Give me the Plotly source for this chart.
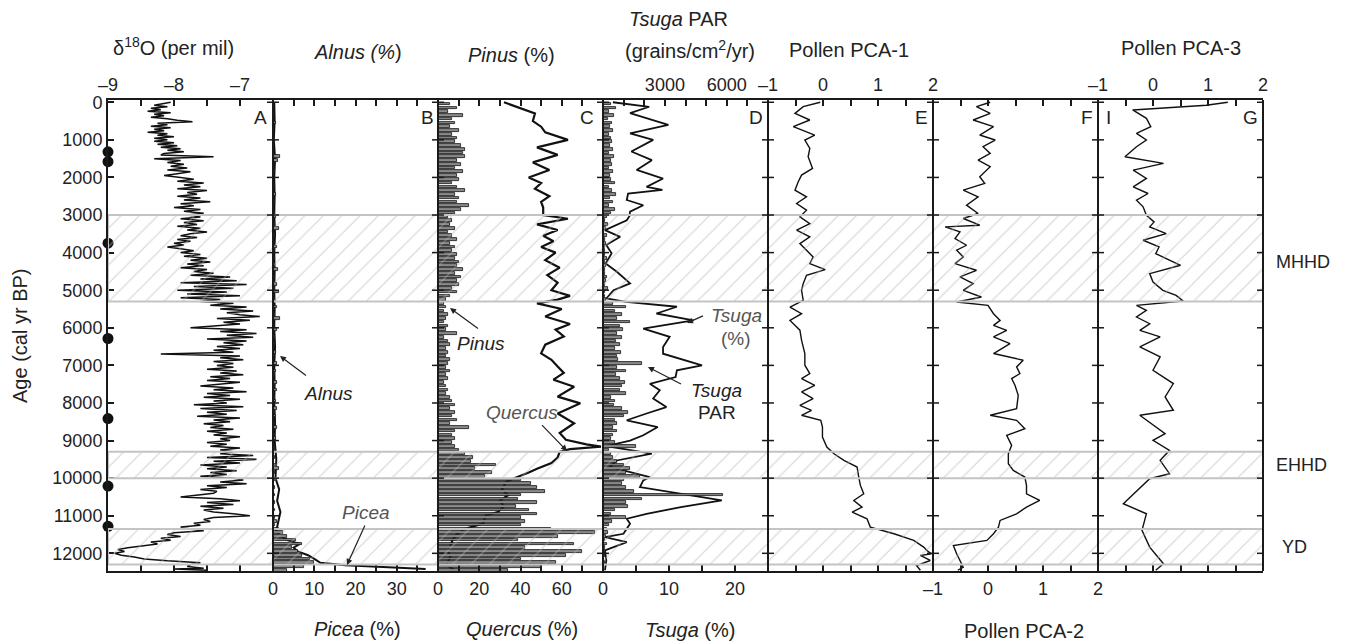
import plotly.graph_objects as go

# ---------------- data ----------------
# Panel A: delta18O (per mil) vs age (cal yr BP)
d18o_age = [0, 40, 80, 120, 160, 200, 240, 280, 320, 360, 400, 440, 480, 520, 560, 600, 640, 680, 720, 760,
            800, 840, 880, 920, 960, 1000, 1040, 1080, 1120, 1160, 1200, 1240, 1280, 1320, 1360, 1400, 1450, 1500,
            1550, 1600, 1650, 1700, 1750, 1800, 1850, 1900, 1950, 2000,
            2050, 2100, 2150, 2200, 2250, 2300, 2350, 2400, 2450, 2500,
            2550, 2600, 2650, 2700, 2750, 2800, 2850, 2900, 2950, 3000,
            3050, 3100, 3150, 3200, 3250, 3300, 3350, 3400, 3450, 3500,
            3550, 3600, 3650, 3700, 3750, 3800, 3850, 3900, 3950, 4000,
            4050, 4100, 4150, 4200, 4250, 4300, 4350, 4400, 4450, 4500,
            4550, 4600, 4650, 4700, 4750, 4800, 4850, 4900, 4950, 5000,
            5050, 5100, 5150, 5200, 5250, 5300, 5350, 5400, 5450, 5500,
            5550, 5600, 5650, 5700, 5750, 5800, 5850, 5900, 5950, 6000,
            6050, 6100, 6150, 6200, 6250, 6300, 6350, 6400, 6450, 6500,
            6550, 6600, 6650, 6700, 6750, 6800, 6850, 6900, 6950, 7000,
            7050, 7100, 7150, 7200, 7250, 7300, 7350, 7400, 7450, 7500,
            7550, 7600, 7650, 7700, 7750, 7800, 7850, 7900, 7950, 8000,
            8050, 8100, 8150, 8200, 8250, 8300, 8350, 8400, 8450, 8500,
            8550, 8600, 8650, 8700, 8750, 8800, 8850, 8900, 8950, 9000,
            9050, 9100, 9150, 9200, 9250, 9300, 9350, 9400, 9450, 9500,
            9550, 9600, 9650, 9700, 9750, 9800, 9850, 9900, 9950, 10000,
            10050, 10100, 10150, 10200, 10250, 10300, 10350, 10400, 10450, 10500,
            10550, 10600, 10650, 10700, 10750, 10800, 10850, 10900, 10950, 11000,
            11050, 11100, 11150, 11200, 11250, 11300, 11350, 11400, 11450, 11500,
            11550, 11600, 11650, 11700, 11750, 11800, 11850, 11900, 11950, 12000,
            12050, 12100, 12150, 12200, 12250, 12300, 12350, 12400, 12420, 12450]
d18o_val = [-8.05, -8.15, -8.30, -8.10, -8.35, -8.20, -8.40, -8.05, -8.30, -8.15, -8.35, -8.10, -7.95, -7.72,
            -8.25, -8.10, -8.35, -8.05, -8.30, -8.15, -8.40, -8.10, -8.25, -8.00, -8.30, -8.10,
            -8.30, -8.00, -8.25, -7.95, -8.20, -7.90, -8.10, -7.85, -8.15, -8.20, -7.40, -8.30,
            -7.90, -8.10, -7.85, -8.05, -7.80, -8.10, -7.75, -7.95, -8.15, -7.90,
            -7.70, -7.95, -7.55, -7.85, -7.60, -7.95, -7.50, -7.80, -7.65, -7.95,
            -7.60, -7.85, -7.45, -7.90, -7.70, -8.00, -7.60, -7.85, -7.55, -7.80,
            -7.60, -7.90, -7.55, -7.85, -7.65, -7.95, -7.60, -7.80, -7.50, -7.75,
            -7.90, -7.65, -7.95, -7.75, -8.00, -7.85, -8.10, -7.90, -7.70, -7.90,
            -7.60, -7.85, -7.50, -7.75, -7.45, -7.80, -7.55, -7.90, -7.50, -7.70,
            -7.40, -7.75, -7.15, -7.60, -7.05, -7.90, -6.90, -7.70, -7.10, -7.95,
            -7.20, -7.80, -7.00, -7.90, -7.30, -7.60, -7.10, -7.45, -6.90, -7.30,
            -6.80, -7.20, -7.00, -6.70, -7.35, -6.85, -7.25, -7.00, -7.40, -7.75,
            -6.90, -7.30, -6.75, -7.20, -6.80, -7.50, -6.90, -7.25, -6.95, -7.35,
            -7.00, -7.40, -7.10, -8.20, -7.00, -7.30, -6.95, -7.40, -7.10, -7.35,
            -7.10, -7.50, -7.05, -7.30, -6.95, -7.45, -7.15, -7.50, -7.00, -7.35,
            -7.60, -7.10, -7.40, -6.90, -7.50, -7.15, -7.55, -7.00, -7.40, -7.20,
            -7.70, -6.95, -7.60, -7.05, -7.50, -7.20, -7.65, -7.00, -7.40, -7.15,
            -7.55, -7.25, -7.45, -7.10, -7.50, -7.20, -7.40, -7.00, -7.30, -7.15,
            -7.50, -7.20, -7.45, -7.00, -7.30, -7.10, -7.30, -6.80, -7.50, -6.75,
            -7.40, -7.00, -7.60, -7.20, -7.50, -7.05, -7.45, -7.20, -7.60, -7.10,
            -6.95, -7.30, -6.90, -7.50, -7.20, -7.60, -7.35, -7.40, -7.70, -7.90,
            -7.30, -7.00, -7.50, -7.10, -7.60, -7.25, -7.55, -7.40, -7.10, -6.85,
            -7.40, -7.55, -7.45, -7.70, -7.60, -7.90, -7.75, -7.55, -8.00, -8.10,
            -7.90, -8.20, -8.05, -8.35, -8.25, -8.50, -8.70, -8.85, -8.75, -8.90,
            -8.80, -8.60, -8.45, -8.10, -7.60, -7.75, -7.80, -7.55, -8.00, -7.50]

# radiocarbon-dated levels (dots on the age axis)
date_age = [1320, 1580, 3750, 6285, 8415, 10210, 11280]

# pollen samples for bar series
pollen_age = [50, 150, 250, 350, 450, 550, 650, 750, 850, 950,
              1050, 1150, 1250, 1350, 1450, 1550, 1650, 1750, 1850, 1950,
              2050, 2150, 2250, 2350, 2450, 2550, 2650, 2750, 2850, 2950,
              3050, 3150, 3250, 3350, 3450, 3550, 3650, 3750, 3850, 3950,
              4050, 4150, 4250, 4350, 4450, 4550, 4650, 4750, 4850, 4950,
              5050, 5150, 5250, 5350, 5450, 5550, 5650, 5750, 5850, 5950,
              6050, 6150, 6250, 6350, 6450, 6550, 6650, 6750, 6850, 6950,
              7050, 7150, 7250, 7350, 7450, 7550, 7650, 7750, 7850, 7950,
              8050, 8150, 8250, 8350, 8450, 8550, 8650, 8750, 8850, 8950,
              9050, 9150, 9250, 9350, 9450, 9550, 9650, 9750, 9850, 9950,
              10050, 10150, 10250, 10350, 10450, 10550, 10650, 10750, 10850, 10950,
              11050, 11150, 11250, 11350, 11450, 11550, 11650, 11750, 11850, 11950,
              12050, 12150, 12250, 12350, 12450]
alnus_pct = [0, 0, 0, 0, 0, 0.15, 0, 0, 0, 0,
             0.1, 0, 0, 0, 0.35, 0.25, 0, 0, 0.1, 0,
             0, 0, 0.1, 0, 0.15, 0, 0.1, 0, 0, 0.1,
             0.15, 0, 0.1, 0.3, 0, 0.1, 0, 0, 0.2, 0.1,
             0, 0.1, 0, 0.1, 0.25, 0, 0.1, 0, 0.2, 0.1,
             0.3, 0, 0.1, 0, 0.2, 0, 0.1, 0.35, 0, 0.1,
             0.2, 0, 0.1, 0, 0.1, 0, 0.15, 0.1, 0, 0.2,
             0, 0.15, 0.1, 0, 0.2, 0.1, 0.2, 0, 0.1, 0.15,
             0, 0.2, 0.1, 0.15, 0, 0.1, 0.2, 0, 0.1, 0.15,
             0, 0.1, 0.1, 0, 0.1, 0, 0.15, 0.3, 0.1, 0,
             0.1, 0, 0.1, 0.05, 0.1, 0, 0.1, 0, 0.1, 0.05,
             0.1, 0.2, 0.1, 0.3, 0.5, 0.7, 1.1, 1.4, 0.9, 1.2,
             1.4, 1.8, 2.0, 1.5, 0.7]
pinus_pct = [6, 9, 5, 12, 7, 8, 6, 10, 7, 9,
             8, 11, 13, 12, 13, 9, 11, 8, 12, 9,
             10, 7, 9, 13, 8, 10, 9, 15, 11, 8,
             5, 7, 6, 8, 5, 7, 9, 6, 8, 7,
             9, 8, 10, 9, 12, 8, 11, 9, 10, 7,
             9, 6, 4, 3, 4, 3, 5, 4, 3, 5,
             4, 9, 3, 5, 6, 4, 5, 4, 6, 5,
             4, 6, 4, 5, 3, 4, 5, 4, 6, 7,
             8, 6, 8, 7, 9, 6, 15, 8, 7, 8,
             7, 8, 10, 13, 17, 16, 28, 18, 26, 23,
             40, 45, 48, 52, 40, 39, 48, 38, 44, 48,
             40, 42, 40, 55, 76, 58, 39, 66, 42, 70,
             62, 40, 57, 50, 34]
tsuga_par = [400, 650, 300, 550, 250, 450, 350, 500, 300, 400,
             450, 350, 500, 300, 550, 400, 450, 300, 500, 350,
             400, 600, 300, 450, 650, 350, 500, 300, 600, 400,
             200, 100, 250, 150, 50, 200, 100, 150, 80, 120,
             100, 200, 80, 150, 100, 120, 200, 150, 100, 250,
             120, 80, 150, 500, 1100, 600, 900, 700, 1300, 800,
             950, 700, 900, 650, 800, 600, 850, 700, 750, 1900,
             700, 1100, 650, 800, 1050, 900, 800, 1100, 400, 600,
             550, 900, 1200, 1000, 600, 700, 500, 700, 500, 400,
             600, 1600, 300, 400, 500, 700, 1000, 1300, 1100, 1800,
             1000, 900, 1100, 1500, 5800, 1900, 1100, 1200, 600, 400,
             1100, 450, 300, 200, 250, 150, 100, 200, 80, 100,
             120, 60, 80, 50, 40]

# line series
picea_age = [0, 500, 1000, 1500, 2000, 2500, 3000, 3500, 4000, 4500, 5000, 5500, 6000, 6500, 7000, 7500,
             8000, 8500, 9000, 9500, 10000, 10300, 10600, 10900, 11200, 11400, 11550, 11650, 11750, 11850,
             11950, 12050, 12150, 12250, 12320, 12420]
picea_pct = [0.3, 0.4, 0.2, 0.5, 0.3, 0.4, 0.3, 0.5, 0.3, 0.4, 0.3, 0.4, 0.3, 0.5, 0.3, 0.4,
             0.3, 0.5, 0.4, 0.8, 0.6, 1.5, 1.0, 1.8, 1.2, 0.8, 2.0, 3.5, 6.5, 5.0,
             6.0, 8.5, 10.0, 11.5, 17.5, 37.0]

quercus_age = [0, 150, 300, 500, 650, 800, 1000, 1200, 1400, 1600, 1800, 2000, 2150, 2300, 2500, 2650,
               2800, 3000, 3100, 3250, 3400, 3550, 3700, 3850, 4000, 4200, 4400, 4600, 4800, 5000, 5150,
               5250, 5350, 5500, 5700, 5900, 6050, 6230, 6450, 6680, 6850, 7030, 7200, 7380, 7570, 7830,
               8010, 8280, 8540, 8800, 8980, 9100, 9160, 9230, 9300, 9450, 9600, 9750, 9850, 10000, 10100,
               10300, 10450, 10600, 10750, 10900, 11000, 11200, 11350, 11500, 11650, 11800, 11950, 12100,
               12200, 12300, 12450]
quercus_pct = [32, 40, 47, 46, 50, 52, 63, 48, 58, 46, 54, 44, 50, 47, 54, 50,
               51, 51, 63, 48, 58, 51, 56, 50, 57, 52, 59, 53, 58, 55, 64,
               58, 48, 60, 52, 64, 57, 61, 52, 50, 55, 58, 61, 56, 66, 58,
               69, 58, 66, 59, 62, 72, 79, 64, 59, 58, 55, 48, 44, 37, 33,
               31, 34, 30, 32, 29, 23, 22, 13, 9, 7, 6, 5, 6,
               5, 4, 8]

tsuga_age = [0, 120, 290, 600, 830, 1000, 1310, 1540, 1800, 2030, 2250, 2330, 2430, 2600, 2740, 2910,
             3030, 3140, 3400, 3580, 3800, 4020, 4290, 4510, 4820, 5000, 5220, 5310, 5440, 5620, 5800,
             6020, 6240, 6510, 6690, 7000, 7130, 7310, 7490, 7660, 7880, 8110, 8280, 8460, 8640, 8860,
             9000, 9150, 9350, 9530, 9700, 9840, 9970, 10060, 10240, 10590, 10770, 10950, 11080, 11210,
             11480, 11570, 11700, 11920, 12190, 12450]
tsuga_pct = [1.5, 7.0, 4.1, 9.9, 4.1, 7.6, 4.3, 7.4, 5.1, 9.1, 6.6, 9.0, 3.8, 3.6, 6.1, 4.1,
             4.0, 3.6, 0.3, 2.6, 0.5, 1.3, 0.4, 2.1, 4.1, 1.6, 0.5, 3.5, 11.2, 8.1, 13.7,
             6.1, 10.1, 9.1, 9.1, 15.0, 11.2, 11.0, 7.1, 8.6, 7.6, 9.6, 6.6, 3.6, 8.3, 6.1,
             4.1, 0.5, 7.4, 2.1, 1.0, 4.1, 7.1, 6.1, 5.6, 18.0, 11.8, 6.6, 3.6, 4.1,
             3.1, 0.3, 3.6, 0.3, 0.5, 0.3]

pca1_age = [0, 117, 295, 472, 650, 872, 1005, 1228, 1450, 1761, 1938, 2116, 2340, 2516, 2694, 2871,
            3049, 3227, 3404, 3582, 3760, 3937, 4115, 4292, 4452, 4603, 4825, 5003, 5270, 5448, 5625,
            5803, 6063, 6330, 6685, 6996, 7218, 7351, 7529, 7706, 7884, 8062, 8195, 8328, 8461, 8639,
            8905, 9172, 9350, 9527, 9705, 9971, 10193, 10415, 10593, 10770, 10903, 11080, 11302, 11480,
            11657, 11835, 11924, 12013, 12057, 12190, 12324, 12450]
pca1_val = [-0.05, -0.36, -0.51, -0.24, -0.54, -0.15, -0.33, -0.24, -0.27, -0.19, -0.39, -0.45, -0.51,
            -0.30, -0.48, -0.30, -0.42, -0.24, -0.48, -0.24, -0.42, -0.30, -0.18, -0.24, 0.04, -0.30,
            -0.36, -0.39, -0.36, -0.60, -0.39, -0.60, -0.42, -0.39, -0.33, -0.33, -0.24, -0.39, -0.15,
            -0.39, -0.18, -0.42, -0.21, -0.39, -0.04, -0.01, -0.01, 0.07, 0.20, 0.38, 0.62, 0.65, 0.68,
            0.74, 0.56, 0.71, 0.53, 0.80, 0.86, 1.29, 1.65, 1.83, 1.89, 1.97, 1.77, 1.95, 1.70, 1.77]

pca2_age = [0, 117, 295, 472, 650, 872, 1005, 1183, 1361, 1538, 1715, 1982, 2160, 2338, 2516, 2738,
            2960, 3093, 3271, 3316, 3449, 3626, 3804, 3937, 4115, 4292, 4470, 4648, 4825, 5003, 5180,
            5315, 5404, 5626, 5803, 5936, 6070, 6241, 6419, 6685, 6863, 7040, 7218, 7351, 7529, 7795,
            8150, 8328, 8461, 8683, 8861, 9127, 9350, 9616, 9794, 9971, 10193, 10415, 10593, 10770,
            10948, 11125, 11302, 11480, 11657, 11790, 12013, 12190, 12368, 12450]
pca2_val = [0.04, -0.21, 0.04, -0.27, 0.10, -0.15, 0.13, -0.09, 0.04, -0.18, 0.04, -0.15, -0.06, -0.45,
            -0.18, -0.39, -0.18, -0.45, -0.15, -0.78, -0.51, -0.60, -0.39, -0.57, -0.45, -0.60, -0.21,
            -0.51, -0.27, -0.45, -0.12, -0.57, 0.00, 0.10, 0.22, 0.10, 0.34, 0.10, 0.40, 0.10, 0.64,
            0.52, 0.58, 0.43, 0.49, 0.55, 0.52, 0.04, 0.52, 0.67, 0.34, 0.43, 0.37, 0.37, 0.46, 0.67,
            0.70, 0.70, 0.94, 0.70, 0.52, 0.22, 0.19, 0.10, -0.02, -0.63, -0.57, -0.51, -0.45, -0.55]

pca3_age = [0, 80, 205, 427, 650, 827, 1005, 1183, 1450, 1627, 1805, 2027, 2249, 2427, 2604, 2782,
            3005, 3182, 3316, 3493, 3671, 3849, 4027, 4204, 4337, 4559, 4781, 5003, 5137, 5288, 5403,
            5537, 5714, 5892, 6070, 6241, 6507, 6774, 7129, 7484, 7839, 8194, 8328, 8816, 8994, 9260,
            9527, 9882, 10015, 10681, 10947, 11390, 11834, 12278, 12450]
pca3_val = [1.36, 0.97, -0.37, -0.12, -0.04, -0.30, -0.12, -0.30, -0.51, 0.19, -0.36, -0.12, -0.36,
            -0.09, -0.30, -0.18, -0.12, 0.02, -0.06, 0.24, -0.18, 0.11, 0.05, 0.29, 0.50, -0.06, 0.00,
            0.18, 0.42, 0.55, -0.30, -0.12, -0.30, -0.06, -0.24, 0.13, -0.24, 0.13, 0.00, 0.37, 0.22,
            0.37, -0.24, 0.22, 0.00, 0.30, 0.13, 0.30, -0.06, -0.54, -0.12, -0.20, -0.06, 0.19, 0.05]

# climate intervals (age ranges) and labels
band_names = ["MHHD", "EHHD", "YD"]
band_top = [3000, 9300, 11350]
band_bottom = [5300, 10000, 12300]

# tick labels
age_ticks = [0, 1000, 2000, 3000, 4000, 5000, 6000, 7000, 8000, 9000, 10000, 11000, 12000]
d18o_ticks = [-9, -8.5, -8, -7.5, -7, -6.5]
d18o_text = ["\u20139", " ", "\u20138", " ", "\u20137", " "]
picea_ticks = [0, 5, 10, 15, 20, 25, 30, 35, 40]
picea_text = ["0", " ", "10", " ", "20", " ", "30", " ", " "]
alnus_ticks = [0, 1, 2, 3, 4, 5, 6, 7, 8]
pct80_ticks = [0, 10, 20, 30, 40, 50, 60, 70, 80]
quercus_text = ["0", " ", "20", " ", "40", " ", "60", " ", " "]
tsuga_ticks = [0, 5, 10, 15, 20, 25]
tsuga_text = ["0", " ", "10", " ", "20", " "]
par_ticks = [0, 1000, 2000, 3000, 4000, 5000, 6000, 7000, 8000]
par_text = [" ", " ", " ", "3000", " ", " ", "6000", " ", " "]
pca_ticks = [-1, -0.5, 0, 0.5, 1, 1.5, 2]
pca_text = ["\u20131", " ", "0", " ", "1", " ", "2"]

# ---------------- figure ----------------
FONT = "Liberation Sans, Arial, sans-serif"
AX = "#1a1a1a"
BODY = 8                     # default page margin of the html body
W, H = 1349 - BODY, 644 - BODY
PL, PR, PT, PB = 108, 1263, 100, 571   # plot area in screenshot pixels
YR = [12470, -60]
NP = 7


def fx(x):
    return (x - PL) / (PR - PL)


def fy(y):
    return (PB - y) / (PB - PT)


fig = go.Figure()

LINE = "#111"


def line(xv, yv, xa, width, ghost=False):
    # ghost copies keep an otherwise empty twin axis alive (fully transparent)
    fig.add_trace(go.Scatter(x=xv, y=yv, mode="lines", line=dict(color=LINE, width=width),
                             opacity=0 if ghost else 1, hoverinfo="skip" if ghost else None,
                             xaxis=xa, yaxis="y"))


# Panel A
line(d18o_val, d18o_age, "x", 1.5)
fig.add_trace(go.Scatter(x=[-9] * len(date_age), y=date_age, mode="markers", cliponaxis=False,
                         marker=dict(color=LINE, size=11), xaxis="x8", yaxis="y"))
# Panel B
BAR = dict(color="#8a8a8a", line=dict(color="#111", width=0.8))
fig.add_trace(go.Bar(x=alnus_pct, y=pollen_age, orientation="h", width=70, marker=BAR,
                     xaxis="x9", yaxis="y"))
line(picea_pct, picea_age, "x2", 2)
# Panel C
fig.add_trace(go.Bar(x=pinus_pct, y=pollen_age, orientation="h", width=70, marker=BAR,
                     xaxis="x10", yaxis="y"))
line(quercus_pct, quercus_age, "x3", 2.2)
# Panel D
fig.add_trace(go.Bar(x=tsuga_par, y=pollen_age, orientation="h", width=70, marker=BAR,
                     xaxis="x11", yaxis="y"))
line(tsuga_pct, tsuga_age, "x4", 1.8)
# Panels E, F, G
line(pca1_val, pca1_age, "x12", 1.4)
line(pca1_val, pca1_age, "x5", 1.4, ghost=True)
line(pca2_val, pca2_age, "x6", 1.4)
line(pca2_val, pca2_age, "x13", 1.4, ghost=True)
line(pca3_val, pca3_age, "x14", 1.4)
line(pca3_val, pca3_age, "x7", 1.4, ghost=True)

# hatched climate bands over all panels
for t, b in zip(band_top, band_bottom):
    fig.add_trace(go.Scatter(x=[0, 1, 1, 0, 0], y=[t, t, b, b, t], mode="lines", fill="toself",
                             fillcolor="rgba(0,0,0,0)",
                             fillpattern=dict(shape="/", fgcolor="#b8b8b8", bgcolor="rgba(0,0,0,0)",
                                              size=13, solidity=0.1),
                             line=dict(color="#c4c4c4", width=2), xaxis="x15", yaxis="y8",
                             hoverinfo="skip"))

TICKFONT = dict(family=FONT, size=18, color="#222")


def xaxis(dom, rng, vals, text, side, overlaying=None):
    d = dict(range=rng, tickmode="array", tickvals=vals, side=side, anchor="y",
             showline=True, linecolor=AX, linewidth=2, ticks="inside", ticklen=6, tickwidth=1.5,
             tickcolor=AX, showgrid=False, zeroline=False, tickfont=TICKFONT, tickangle=0)
    if text is None:
        d["showticklabels"] = False
    else:
        d["ticktext"] = text
    if overlaying:
        d["overlaying"] = overlaying
    else:
        d["domain"] = dom
    return d


panels = [
    # bottom range, bottom ticks, bottom text, top range, top ticks, top text
    ([-9, -6.5], d18o_ticks, None, [-9, -6.5], d18o_ticks, d18o_text),
    ([0, 40], picea_ticks, picea_text, [0, 8], alnus_ticks, None),
    ([0, 80], pct80_ticks, quercus_text, [0, 80], pct80_ticks, None),
    ([0, 25], tsuga_ticks, tsuga_text, [0, 8000], par_ticks, par_text),
    ([-1, 2], pca_ticks, None, [-1, 2], pca_ticks, pca_text),
    ([-1, 2], pca_ticks, pca_text, [-1, 2], pca_ticks, None),
    ([-1, 2], pca_ticks, None, [-1, 2], pca_ticks, pca_text),
]

lay = {}
for i, (brng, bt, btx, trng, tt, ttx) in enumerate(panels):
    k = i + 1
    sid = "" if k == 1 else str(k)
    dom = [i / NP, (i + 1) / NP]
    lay["xaxis" + sid] = xaxis(dom, brng, bt, btx, "bottom")
    lay["xaxis" + str(k + NP)] = xaxis(dom, trng, tt, ttx, "top", overlaying="x" + sid)

lay["yaxis"] = dict(domain=[0, 1], range=YR, anchor="x", side="left", tickmode="array",
                    tickvals=age_ticks, ticktext=[str(a) for a in age_ticks],
                    showline=True, linecolor=AX, linewidth=2, ticks="inside", ticklen=6,
                    tickwidth=1.5, tickcolor=AX, showgrid=False, zeroline=False, tickfont=TICKFONT)
lay["xaxis15"] = dict(domain=[0, 1], range=[0, 1], anchor="y8", visible=False)
lay["yaxis8"] = dict(domain=[0, 1], range=YR, anchor="x15", visible=False)

# panel borders and their age ticks (drawn through the age axis)
shapes = []
for j in range(1, NP + 1):
    shapes.append(dict(type="line", xref="paper", yref="paper", x0=j / NP, x1=j / NP, y0=0, y1=1,
                       line=dict(color=AX, width=2)))
    for a in age_ticks:
        shapes.append(dict(type="line", xref="paper", yref="y", xsizemode="pixel", xanchor=j / NP,
                           x0=-6, x1=(6 if j < NP else 0), y0=a, y1=a,
                           line=dict(color=AX, width=1.5)))

ann = []


def text(x, y, s, size=20, color="#222", xanchor="center", angle=0):
    ann.append(dict(x=fx(x), y=fy(y), xref="paper", yref="paper", text=s, showarrow=False,
                    font=dict(family=FONT, size=size, color=color), xanchor=xanchor,
                    yanchor="middle", textangle=angle))


def arrow(tx, ty, sx, sy, color="#222"):
    ann.append(dict(x=fx(tx), y=fy(ty), xref="paper", yref="paper", text=" ", showarrow=True,
                    font=dict(size=2), ax=sx - tx, ay=sy - ty, axref="pixel", ayref="pixel",
                    arrowhead=2, arrowsize=1, arrowwidth=1.2, arrowcolor=color, standoff=0,
                    startstandoff=0))


# axis titles
text(173, 46, "\u03b4<sup>18</sup>O (per mil)")
text(358, 52, "<i>Alnus (%</i>)")
text(511, 55, "<i>Pinus</i> (%)")
text(678, 19, "<i>Tsuga</i> PAR")
text(690, 49, "(grains/cm<sup>2</sup>/yr)")
text(849, 50, "Pollen PCA-1")
text(1181, 48, "Pollen PCA-3")
text(357, 629, "<i>Picea</i> (%)")
text(522, 629, "<i>Quercus</i> (%)")
text(690, 630, "<i>Tsuga</i> (%)")
text(1024, 631, "Pollen PCA-2")
text(20, 336, "Age (cal yr BP)", angle=-90)

# panel letters
for lx, lt in zip([260, 427, 587, 756, 921, 1087, 1250, 1108], ["A", "B", "C", "D", "E", "F", "G", "I"]):
    text(lx, 117, lt, size=19)

# interval labels
text(1274, 262, band_names[0], size=18, xanchor="left")
text(1274, 465, band_names[1], size=18, xanchor="left")
text(1280, 547, band_names[2], size=18, xanchor="left")

# taxon annotations with arrows
text(328, 393, "<i>Alnus</i>", size=19)
arrow(280, 356, 308, 377)
text(366, 512, "<i>Picea</i>", size=19, color="#555")
arrow(347, 565, 366, 523)
text(481, 343, "<i>Pinus</i>", size=19)
arrow(450, 308, 480, 330)
text(522, 412, "<i>Quercus</i>", size=19, color="#555")
arrow(567, 451, 540, 423)
text(736, 315, "<i>Tsuga</i>", size=19, color="#555")
text(736, 338, "(%)", size=19, color="#555")
arrow(687, 323, 705, 315)
text(716, 390, "<i>Tsuga</i>", size=19)
text(717, 412, "PAR", size=19)
arrow(648, 367, 683, 385)

fig.update_layout(width=W, height=H,
                  margin=dict(l=PL - BODY, r=(1349 - PR), t=PT - BODY, b=(644 - PB), pad=0, autoexpand=False),
                  paper_bgcolor="white", plot_bgcolor="rgba(0,0,0,0)", showlegend=False,
                  font=dict(family=FONT, color="#222"), annotations=ann, shapes=shapes, bargap=0, **lay)

fig.write_html("out.html")
